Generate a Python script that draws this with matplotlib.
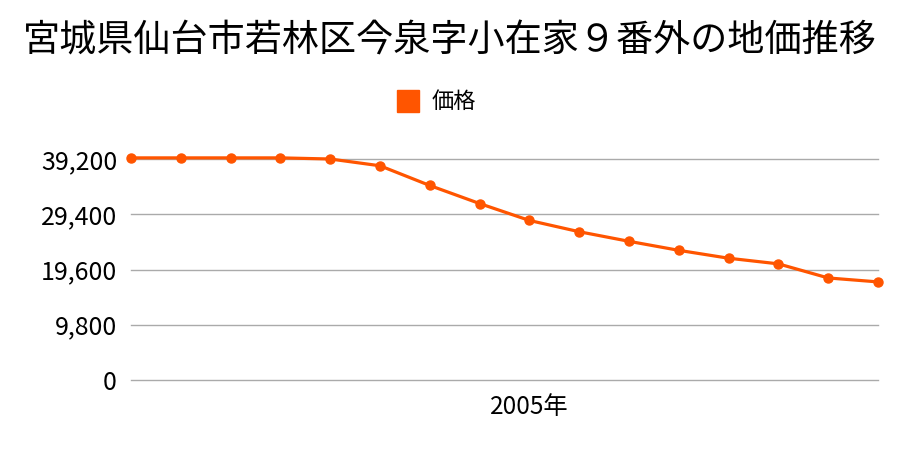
import matplotlib
matplotlib.use("Agg")
import matplotlib.pyplot as plt
from matplotlib.patches import Rectangle

plt.rcParams['font.family'] = ['Noto Sans CJK JP', 'DejaVu Sans']

title = "宮城県仙台市若林区今泉字小在家９番外の地価推移"
series_name = "価格"
years = list(range(1997, 2013))
prices = [39400, 39400, 39400, 39400, 39200, 38000, 34500, 31300,
          28300, 26300, 24600, 23000, 21600, 20600, 18100, 17400]
yticks = [0, 9800, 19600, 29400, 39200]
xtick_year = 2005
color = "#ff5500"

fig = plt.figure(figsize=(9, 4.5), dpi=100)
ax = fig.add_axes([131/900, 1-380/450, (878-131)/900, (380-159)/450])

x = list(range(len(years)))
ax.plot(x, prices, color=color, lw=2.3, marker='o', markersize=6.5, clip_on=False, zorder=3)
ax.set_xlim(0, len(years)-1)
ax.set_ylim(0, 39200)
ax.set_yticks(yticks)
ax.set_yticklabels([f"{v:,}" for v in yticks], fontsize=18)
for v in yticks:
    ax.axhline(v, color="#aaaaaa", lw=1, clip_on=False, zorder=1)
idx = years.index(xtick_year)
ax.set_xticks([idx])
ax.set_xticklabels([f"{xtick_year}年"], fontsize=17.5)
ax.tick_params(axis='y', length=0, pad=10)
ax.tick_params(axis='x', length=0, pad=10)
for s in ax.spines.values():
    s.set_visible(False)

fig.text(0.5, 1-41/450, title, ha='center', va='center', fontsize=26.7)
fig.patches.append(Rectangle((397/900, 1-112/450), 22/900, 22/450,
                             transform=fig.transFigure, color=color))
fig.text(432/900, 1-101/450, series_name, ha='left', va='center', fontsize=16)

fig.savefig("out.png", dpi=100)
